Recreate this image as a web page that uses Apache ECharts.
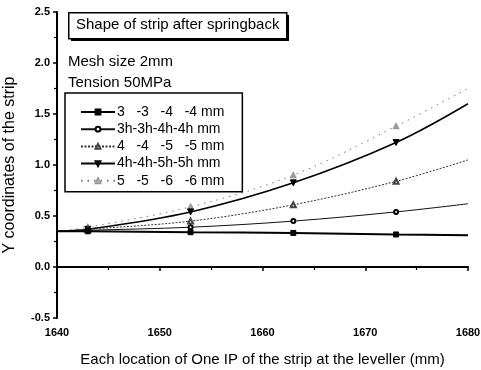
<!DOCTYPE html>
<html><head><meta charset="utf-8">
<script src="https://cdn.jsdelivr.net/npm/echarts@6/dist/echarts.min.js"></script>
<style>html,body{margin:0;padding:0;background:#fff}#c{width:481px;height:370px}</style>
</head><body><div id="c"></div>
<script>
const xPositions = [1640, 1643, 1653, 1663, 1673, 1680];
const seriesNames = ['3   -3   -4   -4 mm', '3h-3h-4h-4h mm', '4   -4   -5   -5 mm', '4h-4h-5h-5h mm', '5   -5   -6   -6 mm'];
const s1 = [0.35, 0.35, 0.341, 0.334, 0.319, 0.311];
const s2 = [0.35, 0.36, 0.39, 0.45, 0.54, 0.62];
const s3 = [0.35, 0.37, 0.45, 0.61, 0.84, 1.05];
const s4 = [0.35, 0.37, 0.54, 0.825, 1.22, 1.60];
const s5 = [0.35, 0.39, 0.59, 0.90, 1.38, 1.75];
const xTicks = [1640, 1650, 1660, 1670, 1680];
const yTicks = [-0.5, 0.0, 0.5, 1.0, 1.5, 2.0, 2.5];
const titleText = 'Shape of strip after springback';
const noteLines = ['Mesh size 2mm', 'Tension 50MPa'];

const font = '"Liberation Sans", Arial, sans-serif';
function pts(arr){
  return arr.map((v,i)=>({value:[xPositions[i], v], symbol:(i===0||i===arr.length-1)?'none':undefined}));
}
const styles = [
  {data:s1, symbol:'rect', size:5, color:'#000', line:{width:2, type:'solid', color:'#000'}},
  {data:s2, symbol:'emptyCircle', size:4, color:'#000', line:{width:1, type:'solid', color:'#111'}},
  {data:s3, symbol:'emptyTriangle', size:5, color:'#444', line:{width:1, type:[2,1.5], color:'#333'}},
  {data:s4, symbol:'triangle', size:6, color:'#000', rotate:180, line:{width:1.6, type:'solid', color:'#000'}},
  {data:s5, symbol:'emptyTriangle', size:4, color:'#999', line:{width:1, type:[1.5,5], color:'#777'}}
];
const chart = echarts.init(document.getElementById('c'), null, {renderer:'canvas'});
chart.setOption({
  animation:false,
  backgroundColor:'#fff',
  graphic:[
    {type:'rect', left:71, top:15, shape:{width:218, height:26}, style:{fill:'#000'}, z:10},
    {type:'rect', left:68, top:12, shape:{width:218, height:26}, style:{fill:'#fff', stroke:'#000', lineWidth:1.5}, z:11},
    {type:'text', left:76, top:17, style:{text:titleText, font:'15px '+font, fill:'#000'}, z:12},
    {type:'text', left:68, top:54, style:{text:noteLines[0], font:'15px '+font, fill:'#000'}},
    {type:'text', left:68, top:75, style:{text:noteLines[1], font:'15px '+font, fill:'#000'}}
  ],
  legend:{
    orient:'vertical', left:65, top:93,
    padding:[12,18,4,15], itemGap:3.2, itemWidth:34, itemHeight:6,
    borderColor:'#000', borderWidth:1.5, backgroundColor:'#fff',
    textStyle:{fontFamily:font, fontSize:14, color:'#000', padding:[0,0,0,-3]},
    data:seriesNames
  },
  grid:{left:57, right:13, top:12, bottom:52, outerBoundsMode:'none', containLabel:false},
  xAxis:{
    type:'value', min:xTicks[0], max:xTicks[xTicks.length-1], interval:10,
    name:'Each location of One IP of the strip at the leveller (mm)',
    nameLocation:'middle', nameGap:34,
    nameTextStyle:{fontFamily:font, fontSize:15, color:'#000'},
    axisLine:{show:true, lineStyle:{color:'#000', width:2}},
    axisTick:{show:true, inside:false, length:4, lineStyle:{color:'#000', width:1.5}},
    minorTick:{show:true, splitNumber:2, length:3, lineStyle:{color:'#000', width:1.2}},
    axisLabel:{fontFamily:font, fontSize:11, fontWeight:'bold', color:'#000', margin:9, formatter:v=>String(v)},
    splitLine:{show:false}
  },
  yAxis:{
    type:'value', min:yTicks[0], max:yTicks[yTicks.length-1], interval:0.5,
    name:'Y coordinates of the strip', nameLocation:'middle', nameGap:39, nameRotate:90,
    nameTextStyle:{fontFamily:font, fontSize:16, color:'#000'},
    axisLine:{show:true, lineStyle:{color:'#000', width:2}},
    axisTick:{show:true, inside:false, length:4, lineStyle:{color:'#000', width:1.5}},
    minorTick:{show:true, splitNumber:2, length:3, lineStyle:{color:'#000', width:1.2}},
    axisLabel:{fontFamily:font, fontSize:11, fontWeight:'bold', color:'#000', margin:7, formatter:v=>v.toFixed(1)},
    splitLine:{show:false}
  },
  series: styles.map((s,i)=>({
    name:seriesNames[i], type:'line', smooth:0.35,
    data:pts(s.data), symbol:s.symbol, symbolSize:s.size, symbolRotate:s.rotate||0,
    itemStyle:{color:s.color, borderColor:s.color, borderWidth:1},
    lineStyle:s.line, z: 5-i
  }))
});
</script></body></html>
